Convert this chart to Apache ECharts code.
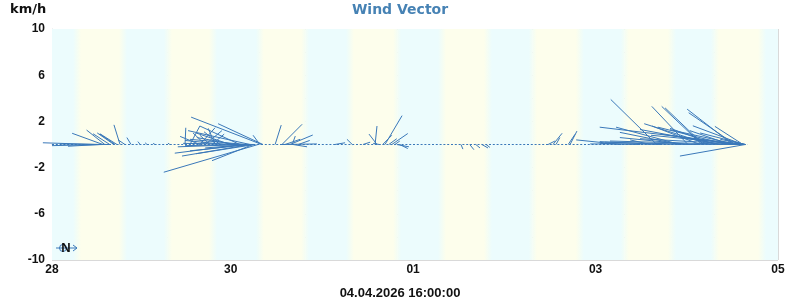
<!DOCTYPE html>
<html><head><meta charset="utf-8">
<script src="https://cdn.jsdelivr.net/npm/echarts@6/dist/echarts.min.js"></script>
<style>html,body{margin:0;padding:0;background:#fff}#c{width:800px;height:300px}</style>
</head><body><div id="c"></div>
<script>
// ---- data ----
const titleText = 'Wind Vector';
const unitText = 'km/h';
const nowLabel = '04.04.2026 16:00:00';
// local midnights as elapsed hours from 28.03.2026 00:00 (DST change on 29.03 -> 23h day)
const dayStartH = [0, 24, 47, 71, 95, 119, 143, 167, 191];
const dayLabels = ['28', '29', '30', '31', '01', '02', '03', '04', '05'];
const nowHour = 183;                 // 04.04.2026 16:00
const yLabelValues = [-10, -6, -2, 2, 6, 10];
// sunrise / sunset, local clock hours, per day 28.03 .. 04.04
const sunriseH = [6.58, 7.5, 7.7, 7.4, 7.6, 7.5, 7.7, 7.4];
const sunsetH  = [18.68, 19.36, 19.6, 19.8, 19.7, 19.9, 20.1, 19.8];
// wind vectors: base time (elapsed h), tip time (elapsed h), tip value (km/h)
const vecBaseH = [
  11.3, 13.4, 15.2, 12.6, 13.4, 13.9, 15.2, 16.3, 17.1, 17.9, 16.6, 20.8, 19.2, 23.2, 25.0, 27.1, 31.0,
  55.2, 55.5, 35.0, 52.1, 49.4, 46.9, 44.2, 42.9, 54.7, 50.7, 48.1, 41.6, 40.3, 38.9, 45.6,
  54.2, 52.1, 50.2, 52.9, 52.1, 53.3, 51.5, 50.7, 53.3, 49.4,
  36.3, 38.9, 40.3, 42.1,
  58.7, 60.5, 63.2, 62.6, 61.3, 63.4, 60.5, 64.8,
  79.0, 74.4, 81.8, 85.0, 85.5, 87.6, 89.4, 87.0, 90.2, 90.7, 91.5, 86.1, 88.6,
  107.6, 109.9, 111.5, 113.1, 114.2,
  130.5, 131.8, 132.6, 135.8, 136.3,
  149.7, 159.1, 167.3, 171.0, 171.4, 179.1, 179.7, 181.8, 182.4, 165.2, 173.1, 177.6, 182.4,
  180.3, 165.2, 181.8, 170.5, 175.8, 179.7, 182.4, 181.1, 170.5, 167.8, 160.0, 175.8, 182.4,
  182.4, 178.4, 174.4, 182.1, 157.4, 154.7, 182.4
];
const vecTipH = [
  -2.4, 0.0, 2.1, 4.2, 5.3, 9.1, 10.8, 11.9, 12.6, 16.3, 12.6, 19.7, 17.4, 22.6, 24.5, 26.6, 30.5,
  36.6, 43.7, 35.2, 35.8, 38.9, 37.9, 40.0, 41.1, 52.9, 36.3, 38.1, 38.9, 37.1, 33.7, 35.0,
  29.4, 34.2, 32.3, 42.1, 36.3, 37.9, 40.3, 33.1, 34.5, 35.0,
  38.9, 42.9, 44.7, 45.3,
  60.3, 65.8, 64.0, 68.6, 65.3, 67.1, 69.7, 67.8,
  77.6, 77.1, 83.7, 85.5, 83.4, 92.1, 93.6, 89.4, 91.5, 93.9, 93.6, 84.5, 90.7,
  108.1, 111.0, 112.6, 114.7, 115.2,
  132.3, 134.2, 133.6, 137.6, 138.1,
  137.9, 147.0, 157.8, 160.4, 161.3, 167.1, 167.5, 174.4, 144.1, 148.4, 155.8, 159.4, 165.2,
  162.6, 149.4, 168.6, 157.9, 154.7, 160.0, 154.7, 146.8, 145.5, 149.4, 144.1, 165.2, 170.5,
  175.8, 167.8, 162.6, 157.6, 152.1, 144.1, 141.6
];
const vecTipV = [
  0.15, -0.1, 0.05, -0.15, 0.97, 1.25, 0.93, 1.0, 0.93, 1.7, 0.9, 0.6, 0.4, 0.25, 0.15, 0.1, 0.12,
  2.37, 1.8, 1.45, 1.2, 1.6, 1.0, 1.1, 1.4, 0.8, 0.45, 0.6, 0.8, 1.0, 0.7, 0.35,
  -2.4, -1.0, -0.75, -1.4, -0.55, -0.8, -0.3, -0.2, 0.1, -0.1,
  1.6, 1.45, 1.2, 0.9,
  1.68, 1.75, 0.73, 0.82, 0.45, -0.2, 0.05, 0.35,
  0.45, 0.15, 0.2, 1.6, 0.9, 2.5, 0.95, 0.8, 0.3, -0.2, -0.35, 0.1, 0.5,
  -0.4, -0.45, -0.3, -0.3, -0.25,
  0.3, 0.97, 0.6, 0.88, 1.16,
  0.4, 3.9, 3.3, 3.3, 3.17, 3.06, 2.75, 1.57, 1.5, 1.5, 1.8, 1.5, -1.0,
  1.28, 1.05, 1.62, 1.6, 1.3, 0.9, 0.5, 0.3, 0.2, 0.6, 0.25, 0.7, 1.0,
  0.45, 1.2, 1.4, 0.8, 0.4, 0.1, 0.05
];

// ---- chart ----
const X0 = dayStartH[0], X1 = dayStartH[dayStartH.length - 1];
const lineColor = '#3a78b9';
const nightColor = '#ecfcfd', dayColor = '#fdfeec', midColor = '#f4fdf4';
const gridColor = '#d9d9d9';
const labelFont = 'Liberation Sans';

// local clock hour on day d -> elapsed hour (29.03 loses one hour at 02:00)
function elapsed(d, h) { return dayStartH[d] + h - (d === 1 && h >= 3 ? 1 : 0); }

function band(a, b, color) {
  const w = (b - a) / (X1 - X0) * 726;
  const e = Math.min(0.3, 4 / w);
  return [{ xAxis: a, itemStyle: { color: {
      type: 'linear', x: 0, y: 0, x2: 1, y2: 0,
      colorStops: [
        { offset: 0, color: a === X0 ? color : midColor },
        { offset: e, color: color },
        { offset: 1 - e, color: color },
        { offset: 1, color: b === X1 ? color : midColor }
      ] } } }, { xAxis: b }];
}
const bands = [];
let prev = X0;
for (let d = 0; d < sunriseH.length; d++) {
  const rise = elapsed(d, sunriseH[d]);
  const set = elapsed(d, sunsetH[d]);
  bands.push(band(prev, rise, nightColor));
  bands.push(band(rise, set, dayColor));
  prev = set;
}
bands.push(band(prev, X1, nightColor));

const vectors = vecBaseH.map((b, i) => ({ coords: [[b, 0], [vecTipH[i], vecTipV[i]]] }));
const labelDays = dayStartH.filter((v, i) => i % 2 === 0);

const chart = echarts.init(document.getElementById('c'), null, { renderer: 'canvas' });
chart.setOption({
  animation: false,
  backgroundColor: '#fff',
  title: [
    { text: titleText, left: 'center', top: 3, padding: 0,
      textStyle: { fontFamily: 'DejaVu Sans', fontWeight: 'bold', fontSize: 14, color: '#4682b4' } },
    { text: unitText, left: 10, top: 3, padding: 0,
      textStyle: { fontFamily: 'DejaVu Sans', fontWeight: 'bold', fontSize: 13, color: '#111' } },
    { text: nowLabel, left: 'center', top: 287, padding: 0,
      textStyle: { fontFamily: labelFont, fontWeight: 'bold', fontSize: 13, color: '#111' } }
  ],
  grid: { left: 52, right: 22, top: 29, bottom: 40 },
  xAxis: {
    type: 'value', min: X0, max: X1,
    axisLine: { show: true, lineStyle: { color: gridColor } },
    axisTick: { show: false, customValues: dayStartH },
    splitLine: { show: true, lineStyle: { color: gridColor, width: 1 } },
    axisLabel: {
      customValues: labelDays,
      margin: 4, color: '#111', fontFamily: labelFont, fontWeight: 'bold', fontSize: 12,
      formatter: v => dayLabels[dayStartH.indexOf(v)] || ''
    }
  },
  yAxis: {
    type: 'value', min: -10, max: 10, interval: 2,
    axisLine: { show: true, lineStyle: { color: gridColor } },
    axisTick: { show: false },
    splitLine: { show: true, lineStyle: { color: gridColor, width: 1 } },
    axisLabel: {
      margin: 7, color: '#111', fontFamily: labelFont, fontWeight: 'bold', fontSize: 12,
      formatter: v => yLabelValues.includes(v) ? String(v) : ''
    }
  },
  series: [
    { type: 'line', z: -1, silent: true, data: [[X0, 0]], symbol: 'none',
      lineStyle: { opacity: 0 },
      markArea: { silent: true, data: bands } },
    { type: 'line', z: 3, silent: true, symbol: 'none', clip: false,
      data: [[X0, 0], [nowHour, 0]],
      lineStyle: { color: lineColor, width: 1, type: [2, 1.8] } },
    { type: 'lines', coordinateSystem: 'cartesian2d', z: 4, silent: true, clip: false,
      data: vectors,
      lineStyle: { color: lineColor, width: 1, opacity: 1 } }
  ],
  graphic: [
    { type: 'line', shape: { x1: 56, y1: 248, x2: 77, y2: 248 }, style: { stroke: lineColor, lineWidth: 1 }, z: 10 },
    { type: 'polyline', shape: { points: [[73, 245], [77, 248], [73, 251]] }, style: { stroke: lineColor, fill: null, lineWidth: 1 }, z: 10 },
    { type: 'circle', shape: { cx: 63, cy: 248, r: 3.5 }, style: { stroke: lineColor, fill: null, lineWidth: 1 }, z: 10 },
    { type: 'text', x: 66, y: 248, z: 11,
      style: { text: 'N', align: 'center', verticalAlign: 'middle', fill: '#111',
               font: 'bold 13px "Liberation Sans"' } }
  ]
});
</script>
</body></html>
